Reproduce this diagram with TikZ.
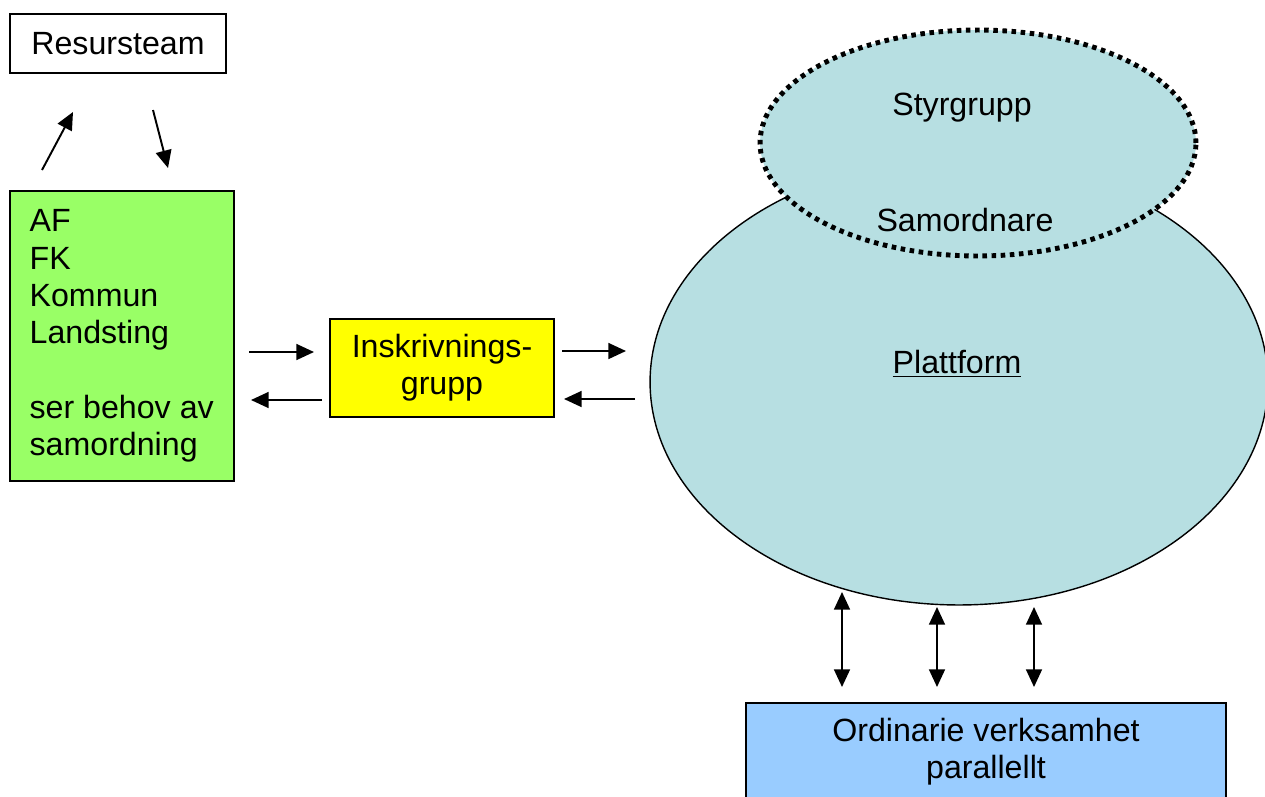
\documentclass[tikz,border=0pt]{standalone}
\usepackage{fontspec}
\setmainfont{Liberation Sans}
\usetikzlibrary{shapes.geometric}
\usetikzlibrary{arrows.meta}
\definecolor{gruen}{RGB}{153,255,102}
\definecolor{gelb}{RGB}{255,255,0}
\definecolor{platt}{RGB}{183,223,226}
\definecolor{blau}{RGB}{153,204,255}

\tikzset{
	box/.style={draw, line width=0.8pt, inner sep=0pt, align=center},
	pil/.style={line width=1.1pt, -{Triangle[length=10pt,width=9pt]}},
	dpil/.style={line width=1.1pt, {Triangle[length=10pt,width=9pt]}-{Triangle[length=10pt,width=9pt]}},
}

\begin{document}
\begin{tikzpicture}[x=0.02cm, y=-0.02cm, font=\fontsize{18.3}{21.2}\selectfont]

	\useasboundingbox (0,0) rectangle (1265,796);

	% Plattform with Styrgrupp on top
	\node[ellipse, draw, line width=0.8pt, fill=platt, minimum width=12.36cm, minimum height=8.92cm, inner sep=0pt] (platt) at (959,382) {};
	\node[ellipse, draw, fill=platt, line width=2.8pt, dash pattern=on 2.6pt off 2.6pt, minimum width=8.72cm, minimum height=4.52cm, inner sep=0pt] (styr) at (978,143) {};
	\node (styrtxt) at (962,108) {Styrgrupp};
	\node (samtxt) at (965,220) {Samordnare};
	\node (platttxt) at (957,364) {\underline{Plattform}};

	% boxes
	\node[box, minimum width=4.32cm, minimum height=1.18cm] (res) at (118,43.5) {Resursteam};
	\node[box, fill=gruen, minimum width=4.48cm, minimum height=5.8cm] (af) at (122,336) {};
	\node[anchor=west, align=left, inner sep=0pt] (aftxt) at ([xshift=0.4cm]af.west) {AF\\FK\\Kommun\\Landsting\\[21.2pt]ser behov av\\samordning};
	\node[box, fill=gelb, minimum width=4.48cm, minimum height=1.96cm] (ins) at (442,368) {Inskrivnings-\\grupp};
	\node[box, fill=blau, minimum width=9.6cm, minimum height=1.94cm] (ord) at (986,751.5) {Ordinarie verksamhet\\parallellt};

	% arrow ends
	\coordinate (a1) at (42,170);
	\coordinate (a2) at (73,112);
	\coordinate (b1) at (153,110);
	\coordinate (b2) at (168,168);
	\coordinate (c1) at (249,352);
	\coordinate (c2) at (314,352);
	\coordinate (d1) at (322,400);
	\coordinate (d2) at (251,400);
	\coordinate (e1) at (562,351);
	\coordinate (e2) at (626,351);
	\coordinate (f1) at (635,399);
	\coordinate (f2) at (564,399);
	\coordinate (g1) at (842,592);
	\coordinate (g2) at (842,687);
	\coordinate (h1) at (937,607);
	\coordinate (h2) at (937,687);
	\coordinate (k1) at (1034,607);
	\coordinate (k2) at (1034,687);

	\draw[pil] (a1) -- (a2);
	\draw[pil] (b1) -- (b2);
	\draw[pil] (c1) -- (c2);
	\draw[pil] (d1) -- (d2);
	\draw[pil] (e1) -- (e2);
	\draw[pil] (f1) -- (f2);
	\draw[dpil] (g1) -- (g2);
	\draw[dpil] (h1) -- (h2);
	\draw[dpil] (k1) -- (k2);

\end{tikzpicture}
\end{document}
